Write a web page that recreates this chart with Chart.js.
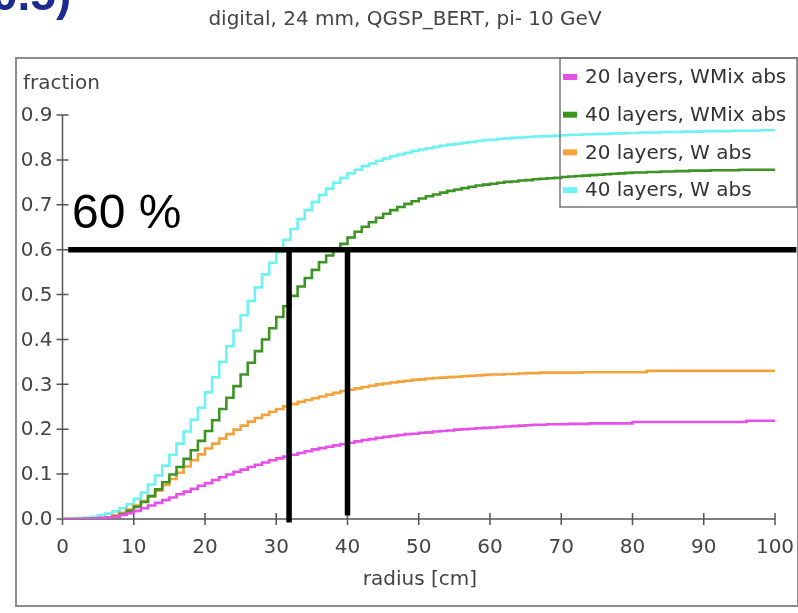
<!DOCTYPE html>
<html>
<head>
<meta charset="utf-8">
<script src="https://cdn.jsdelivr.net/npm/chart.js@4/dist/chart.umd.min.js"></script>
<style>
  html, body { margin: 0; padding: 0; background: #fff; }
</style>
</head>
<body>
<canvas id="grafico" width="798" height="613"></canvas>
<script>
// Fração acumulada de energia em função do raio (bins de 1 cm, 0–100 cm)
const titulo = 'digital, 24 mm, QGSP_BERT, pi- 10 GeV';
const nomes = ['20 layers, WMix abs', '40 layers, WMix abs', '20 layers, W abs', '40 layers, W abs'];
const cores = ['#e64fe8', '#3c9422', '#f4a33a', '#6ff2f2'];
const ticksY = [0, 0.1, 0.2, 0.3, 0.4, 0.5, 0.6, 0.7, 0.8, 0.9];
const ticksX = [0, 10, 20, 30, 40, 50, 60, 70, 80, 90, 100];

const wmix20 = [
  0, 0, 0, 0, 0, 0.001, 0.002, 0.003, 0.005, 0.009,
  0.013, 0.018, 0.024, 0.030, 0.036, 0.042, 0.048, 0.055, 0.061, 0.067,
  0.074, 0.080, 0.087, 0.093, 0.099, 0.105, 0.110, 0.116, 0.121, 0.126,
  0.131, 0.135, 0.139, 0.143, 0.147, 0.151, 0.155, 0.158, 0.161, 0.164,
  0.167, 0.170, 0.173, 0.176, 0.178, 0.181, 0.183, 0.185, 0.187, 0.189,
  0.190, 0.192, 0.193, 0.195, 0.196, 0.197, 0.199, 0.200, 0.201, 0.202,
  0.203, 0.204, 0.205, 0.206, 0.207, 0.208, 0.209, 0.210, 0.210, 0.211,
  0.211, 0.211, 0.212, 0.212, 0.212, 0.213, 0.213, 0.213, 0.213, 0.213,
  0.213, 0.216, 0.216, 0.216, 0.216, 0.216, 0.216, 0.216, 0.216, 0.216,
  0.216, 0.216, 0.216, 0.216, 0.216, 0.216, 0.216, 0.219, 0.219, 0.219
];
const wmix40 = [
  0, 0, 0, 0, 0, 0.001, 0.001, 0.002, 0.005, 0.011,
  0.018, 0.027, 0.038, 0.051, 0.066, 0.082, 0.099, 0.116, 0.134, 0.153,
  0.174, 0.196, 0.220, 0.245, 0.270, 0.296, 0.322, 0.348, 0.374, 0.400,
  0.425, 0.450, 0.474, 0.497, 0.518, 0.537, 0.555, 0.572, 0.587, 0.598,
  0.613, 0.627, 0.640, 0.651, 0.661, 0.671, 0.680, 0.688, 0.695, 0.702,
  0.708, 0.714, 0.719, 0.723, 0.727, 0.731, 0.734, 0.737, 0.740, 0.743,
  0.745, 0.747, 0.749, 0.751, 0.752, 0.754, 0.755, 0.757, 0.758, 0.759,
  0.760, 0.762, 0.763, 0.764, 0.765, 0.766, 0.767, 0.768, 0.769, 0.770,
  0.771, 0.772, 0.772, 0.773, 0.773, 0.774, 0.774, 0.775, 0.775, 0.776,
  0.776, 0.776, 0.777, 0.777, 0.777, 0.777, 0.778, 0.778, 0.778, 0.778
];
const w20 = [
  0, 0, 0, 0, 0.001, 0.001, 0.002, 0.004, 0.008, 0.014,
  0.021, 0.030, 0.040, 0.051, 0.063, 0.076, 0.089, 0.103, 0.117, 0.131,
  0.144, 0.157, 0.168, 0.179, 0.189, 0.199, 0.208, 0.217, 0.225, 0.232,
  0.239, 0.245, 0.251, 0.256, 0.261, 0.265, 0.269, 0.273, 0.277, 0.281,
  0.285, 0.288, 0.291, 0.294, 0.297, 0.300, 0.302, 0.304, 0.306, 0.308,
  0.310, 0.311, 0.313, 0.314, 0.315, 0.316, 0.317, 0.318, 0.319, 0.320,
  0.321, 0.322, 0.322, 0.323, 0.323, 0.324, 0.325, 0.325, 0.326, 0.326,
  0.326, 0.326, 0.326, 0.326, 0.327, 0.327, 0.327, 0.327, 0.327, 0.327,
  0.327, 0.327, 0.327, 0.330, 0.330, 0.330, 0.330, 0.330, 0.330, 0.330,
  0.330, 0.330, 0.330, 0.330, 0.330, 0.330, 0.330, 0.330, 0.330, 0.330
];
const w40 = [
  0, 0, 0.001, 0.002, 0.003, 0.005, 0.008, 0.012, 0.017, 0.024,
  0.033, 0.045, 0.059, 0.077, 0.097, 0.119, 0.143, 0.168, 0.195, 0.221,
  0.248, 0.282, 0.316, 0.350, 0.385, 0.420, 0.454, 0.486, 0.516, 0.545,
  0.571, 0.595, 0.622, 0.646, 0.668, 0.688, 0.706, 0.722, 0.736, 0.749,
  0.760, 0.770, 0.778, 0.786, 0.792, 0.798, 0.803, 0.808, 0.812, 0.816,
  0.820, 0.823, 0.826, 0.829, 0.832, 0.834, 0.836, 0.838, 0.840, 0.842,
  0.844, 0.845, 0.847, 0.848, 0.849, 0.850, 0.851, 0.852, 0.853, 0.853,
  0.854, 0.855, 0.856, 0.856, 0.857, 0.857, 0.858, 0.858, 0.859, 0.859,
  0.860, 0.860, 0.861, 0.861, 0.861, 0.862, 0.862, 0.862, 0.863, 0.863,
  0.863, 0.864, 0.864, 0.864, 0.864, 0.865, 0.865, 0.865, 0.865, 0.866
];

// linha dos 60 % e os raios onde as curvas de 40 layers a cruzam
const nivelX = [0.8, 103];
const nivelY = [0.6, 0.6];
const raio1X = [31.8, 31.8];
const raio1Y = [0.6, -0.008];
const raio2X = [40, 40];
const raio2Y = [0.6, 0.008];

const FONTE = '"DejaVu Sans", "Liberation Sans", sans-serif';

// histograma: cada bin vai de i até i+1, o último ponto fecha em 100
function degraus(valores) {
  const pts = valores.map((v, i) => ({ x: i, y: v }));
  pts.push({ x: valores.length, y: valores[valores.length - 1] });
  return pts;
}
function segmento(xs, ys) {
  return xs.map((x, i) => ({ x, y: ys[i] }));
}

const curvas = [wmix20, wmix40, w20, w40].map((serie, i) => ({
  label: nomes[i],
  data: degraus(serie),
  borderColor: cores[i],
  borderWidth: 2.6,
  stepped: 'after',
  pointRadius: 0,
  fill: false,
  order: 2
}));

const linhasPretas = [[nivelX, nivelY], [raio1X, raio1Y], [raio2X, raio2Y]].map(([xs, ys]) => ({
  label: '',
  data: segmento(xs, ys),
  borderColor: '#000',
  borderWidth: 5.5,
  borderCapStyle: 'butt',
  pointRadius: 0,
  fill: false,
  clip: false,
  order: 1
}));

const decoracao = {
  id: 'decoracao',
  beforeDraw(chart) {
    const c = chart.ctx;
    c.save();
    c.fillStyle = '#fff';
    c.fillRect(0, 0, chart.width, chart.height);
    // pedaço do título do slide, cortado na borda de cima
    c.fillStyle = '#1b2a8c';
    c.font = 'bold 46px "Liberation Sans", sans-serif';
    c.textAlign = 'left';
    c.textBaseline = 'alphabetic';
    c.fillText('0.5)', -8, 10);
    // moldura do painel
    c.strokeStyle = '#8c8c8c';
    c.lineWidth = 2;
    c.strokeRect(16, 58, 782, 548);
    c.fillStyle = '#444';
    c.font = '20px ' + FONTE;
    c.textAlign = 'center';
    c.fillText(titulo, 405, 25);
    c.restore();
  },
  beforeDatasetsDraw(chart) {
    const c = chart.ctx;
    const sx = chart.scales.x, sy = chart.scales.y;
    const { left, right, top, bottom } = chart.chartArea;
    c.save();
    c.strokeStyle = '#555';
    c.lineWidth = 1.5;
    c.beginPath();
    c.moveTo(left, top);
    c.lineTo(left, bottom);
    c.lineTo(right, bottom);
    ticksY.forEach(v => {
      const p = sy.getPixelForValue(v);
      c.moveTo(left - 6, p);
      c.lineTo(left + 6, p);
    });
    ticksX.forEach(v => {
      const p = sx.getPixelForValue(v);
      c.moveTo(p, bottom - 6);
      c.lineTo(p, bottom + 6);
    });
    c.stroke();
    // rótulos dos ticks
    c.fillStyle = '#444';
    c.font = '20px ' + FONTE;
    c.textBaseline = 'middle';
    c.textAlign = 'right';
    ticksY.forEach(v => c.fillText(v.toFixed(1), left - 10, sy.getPixelForValue(v) + 1));
    c.textAlign = 'center';
    ticksX.forEach(v => c.fillText(String(v), sx.getPixelForValue(v), bottom + 29));
    c.restore();
  },
  afterDatasetsDraw(chart) {
    const c = chart.ctx;
    c.save();
    // legenda
    c.strokeStyle = '#777';
    c.lineWidth = 1.5;
    c.strokeRect(560, 58, 237, 149);
    c.font = '20px ' + FONTE;
    c.textAlign = 'left';
    c.textBaseline = 'middle';
    nomes.forEach((nome, i) => {
      const y = 77 + i * 37.7;
      c.fillStyle = cores[i];
      c.fillRect(563, y - 3, 14, 6);
      c.fillStyle = '#333';
      c.fillText(nome, 585, y + 1);
    });
    // títulos dos eixos
    c.fillStyle = '#444';
    c.textBaseline = 'alphabetic';
    c.fillText('fraction', 23, 89);
    c.textAlign = 'center';
    c.fillText('radius [cm]', 420, 585);
    // rótulo da linha de 60 %
    c.fillStyle = '#000';
    c.textAlign = 'left';
    c.font = '48px "Liberation Sans", Arial, sans-serif';
    c.fillText('60 %', 72, 228);
    c.restore();
  }
};

new Chart(document.getElementById('grafico'), {
  type: 'line',
  data: { datasets: [...linhasPretas, ...curvas] },
  options: {
    responsive: false,
    animation: false,
    layout: { padding: { left: 0, right: 23, top: 115, bottom: 0 } },
    plugins: { legend: { display: false }, title: { display: false }, tooltip: { enabled: false } },
    scales: {
      x: {
        type: 'linear',
        min: 0,
        max: 100,
        grid: { display: false },
        border: { display: false },
        ticks: { display: false },
        afterFit(s) { s.height = 613 - 519; s.paddingLeft = 0; s.paddingRight = 0; },
        afterBuildTicks(s) { s.ticks = ticksX.map(v => ({ value: v })); }
      },
      y: {
        min: 0,
        max: 0.9,
        grid: { display: false },
        border: { display: false },
        ticks: { display: false },
        afterFit(s) { s.width = 62.5; s.paddingTop = 0; s.paddingBottom = 0; },
        afterBuildTicks(s) { s.ticks = ticksY.map(v => ({ value: v })); }
      }
    }
  },
  plugins: [decoracao]
});
</script>
</body>
</html>
